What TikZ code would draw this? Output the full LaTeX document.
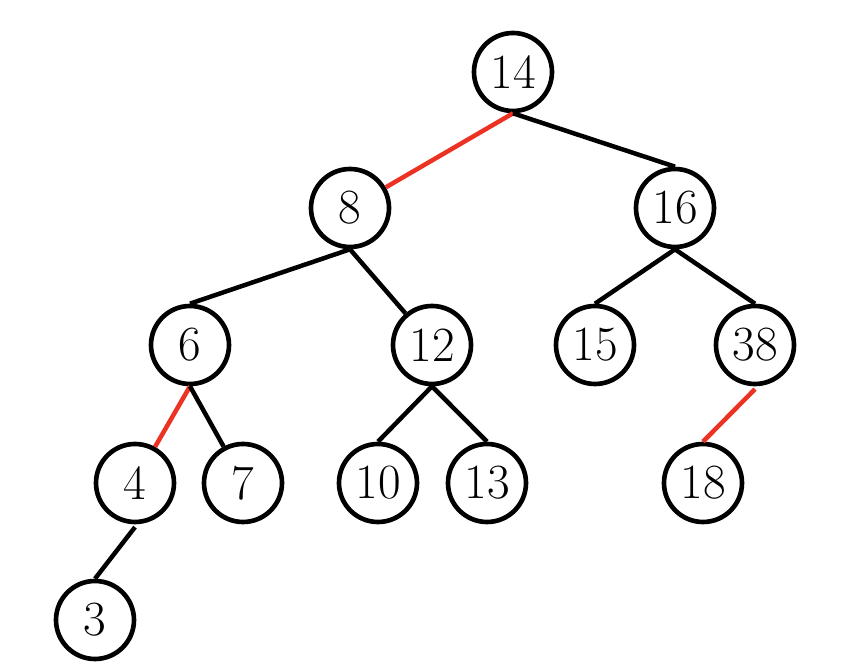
\documentclass[tikz,border=0pt]{standalone}
\usepackage{xcolor}
\usepackage{tikz}
\usetikzlibrary{positioning}
\definecolor{rbred}{RGB}{235,50,35}

\begin{document}
\begin{tikzpicture}[
      key/.style={draw, circle, line width=3.3pt, minimum size=1.95cm, inner sep=0pt,
                  font=\fontsize{35}{40}\selectfont},
      edge/.style={line width=3.2pt},
      redge/.style={edge, rbred}]
    \useasboundingbox (0,0) rectangle (21.5,16.75);
    \node[key] (n14) at (12.825,14.95) {14};
    \node[key] (n8) at (8.75,11.55) {8};
    \node[key] (n16) at (16.875,11.55) {16};
    \node[key] (n6) at (4.75,8.125) {6};
    \node[key] (n12) at (10.8,8.125) {12};
    \node[key] (n15) at (14.875,8.125) {15};
    \node[key] (n38) at (18.875,8.125) {38};
    \node[key] (n4) at (3.375,4.675) {4};
    \node[key] (n7) at (6.075,4.675) {7};
    \node[key] (n10) at (9.45,4.675) {10};
    \node[key] (n13) at (12.175,4.675) {13};
    \node[key] (n18) at (17.575,4.675) {18};
    \node[key] (n3) at (2.375,1.25) {3};
    \draw[redge] (n14.south) -- (n8.30);
    \draw[edge] (n14.south) -- (n16.north);
    \draw[edge] (n8.south) -- (n6.north);
    \draw[edge] (n8.south) -- (n12.130);
    \draw[edge] (n16.south) -- (n15.north);
    \draw[edge] (n16.south) -- (n38.north);
    \draw[redge] (n6.south) -- (n4.61);
    \draw[edge] (n6.south) -- (n7.118);
    \draw[edge] (n12.south) -- (n10.north);
    \draw[edge] (n12.south) -- (n13.north);
    \draw[redge] ([yshift=-2pt]n38.south) -- (n18.north);
    \draw[edge] ([yshift=-2pt]n4.south) -- (n3.north);
  \end{tikzpicture}
\end{document}
